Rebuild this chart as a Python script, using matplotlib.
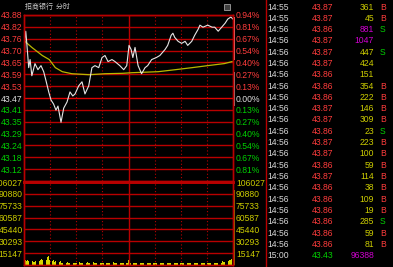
import matplotlib
matplotlib.use('Agg')
import matplotlib.pyplot as plt
from matplotlib.patches import Rectangle

plt.rcParams['font.family'] = ['Liberation Sans', 'Noto Sans CJK SC', 'DejaVu Sans']

# price panel scale
prev_close = 43.47
step = 0.0586
price_labels = ['43.88', '43.82', '43.76', '43.70', '43.65', '43.59', '43.53',
                '43.47', '43.41', '43.35', '43.29', '43.24', '43.18', '43.12']
pct_labels = ['0.94%', '0.81%', '0.67%', '0.54%', '0.40%', '0.27%', '0.13%',
              '0.00%', '0.13%', '0.27%', '0.40%', '0.54%', '0.67%', '0.81%']
vol_levels = [15147, 30293, 45440, 60587, 75733, 90880, 106027]

# intraday price (minute index, price)
px_min = [0, 1, 2, 3.4, 5.4, 7, 9, 12.6, 16, 19.5, 22.6, 25, 28.4, 31, 34, 36.7, 39,
          42.5, 45.6, 49.4, 52.8, 56, 58.6, 62.8, 66.6, 70, 74.3, 78, 81.5, 85.8,
          89.6, 93, 96.5, 101, 104.5, 110, 114.5, 118, 120.6, 123, 125, 127.5, 131,
          135, 139, 142, 146.6, 152, 156, 162, 165, 169, 171, 173, 177, 181, 185,
          188, 192.6, 196, 200, 202, 205.5, 211, 216, 219, 223, 227, 231, 234,
          237.5, 240]
px_val = [43.57, 43.76, 43.80, 43.73, 43.62, 43.66, 43.58, 43.64, 43.61, 43.63,
          43.60, 43.56, 43.50, 43.46, 43.44, 43.41, 43.43, 43.35, 43.42, 43.45,
          43.50, 43.48, 43.49, 43.53, 43.55, 43.49, 43.53, 43.62, 43.63, 43.62,
          43.67, 43.68, 43.65, 43.66, 43.65, 43.63, 43.61, 43.63, 43.73, 43.71,
          43.67, 43.72, 43.63, 43.59, 43.62, 43.63, 43.66, 43.67, 43.68, 43.71,
          43.73, 43.78, 43.79, 43.77, 43.75, 43.74, 43.75, 43.73, 43.75, 43.78,
          43.81, 43.83, 43.82, 43.83, 43.82, 43.82, 43.80, 43.82, 43.84, 43.86,
          43.87, 43.86]

# average price line
avg_min = [0, 1, 9, 21, 29, 36, 44, 55, 75, 93, 113, 124, 154, 174, 193, 211, 230, 239]
avg_val = [43.76, 43.75, 43.72, 43.68, 43.66, 43.62, 43.60, 43.59, 43.585, 43.59,
           43.592, 43.595, 43.60, 43.61, 43.62, 43.63, 43.64, 43.65]

# volume per minute, in thousands of lots
vol_k = [20, 14, 6, 5, 6, 5, 4, 5, 6, 4,
         5, 4, 4, 5, 6, 5, 4, 7, 5, 6,
         8, 6, 5, 4, 9, 11, 7, 10, 12, 6,
         5, 4, 6, 5, 7, 4, 5, 3, 4, 5,
         3, 4, 5, 3, 3, 4, 3, 2, 3, 3,
         4, 3, 2, 3, 2, 3, 4, 3, 2, 3,
         2, 3, 3, 2, 4, 3, 2, 3, 3, 2,
         3, 2, 3, 4, 3, 2, 3, 2, 3, 3,
         4, 3, 2, 3, 2, 3, 5, 3, 2, 3,
         3, 2, 4, 3, 2, 3, 3, 2, 3, 2,
         3, 2, 3, 4, 3, 2, 3, 3, 2, 3,
         2, 3, 3, 2, 3, 2, 3, 3, 2, 3,
         6, 4, 3, 3, 2, 3, 2, 3, 3, 2,
         3, 2, 3, 2, 3, 3, 2, 3, 2, 3,
         3, 2, 3, 3, 2, 3, 4, 2, 3, 3,
         2, 3, 2, 3, 3, 2, 3, 2, 3, 3,
         3, 2, 3, 4, 3, 2, 3, 3, 2, 3,
         4, 3, 2, 3, 3, 2, 3, 2, 3, 3,
         2, 3, 3, 2, 3, 2, 3, 3, 2, 3,
         3, 2, 3, 3, 2, 3, 2, 3, 3, 2,
         6, 5, 3, 2, 3, 3, 2, 3, 2, 3,
         3, 2, 3, 3, 2, 3, 3, 2, 3, 3,
         2, 3, 3, 4, 3, 3, 4, 3, 5, 4,
         4, 5, 4, 5, 6, 5, 6, 7, 8, 9]
close_vol = 96388
close_px = 43.43

# tick-by-tick list
times = ['14:55', '14:55', '14:56', '14:56', '14:56', '14:56', '14:56', '14:56',
         '14:56', '14:56', '14:56', '14:56', '14:56', '14:56', '14:56', '14:56',
         '14:56', '14:56', '14:56', '14:56', '14:56', '14:56', '15:00']
prices = ['43.87', '43.87', '43.86', '43.87', '43.87', '43.87', '43.86', '43.86',
          '43.86', '43.87', '43.87', '43.86', '43.87', '43.87', '43.86', '43.87',
          '43.86', '43.86', '43.86', '43.86', '43.86', '43.86', '43.43']
vols = ['361', '45', '881', '1047', '447', '424', '151', '354', '222', '146', '309',
        '23', '223', '100', '59', '114', '38', '109', '19', '285', '59', '81', '96388']
sides = ['B', 'B', 'S', '', 'S', '', '', 'B', 'B', 'B', 'B', 'S', 'B', 'B', 'B', 'B',
         'B', 'B', 'B', 'S', 'B', 'B', '']

RED = '#ff3c3c'
GREEN = '#00d000'
GRID = '#b80000'
YEL = '#cccc00'
W, H = 393, 267

fig = plt.figure(figsize=(W / 100, H / 100), dpi=100, facecolor='black')

bg = fig.add_axes([0, 0, 1, 1])
bg.set_xlim(0, W)
bg.set_ylim(H, 0)
bg.axis('off')
bg.set_facecolor('black')

# price panel
ax = fig.add_axes([24 / W, (H - 181) / H, 209 / W, 166 / H])
ax.set_facecolor('black')
ax.set_xlim(0, 240)
lo, hi = prev_close - 7 * step, prev_close + 7 * step
ax.set_ylim(lo, hi)
levels = [prev_close + step * k for k in range(7, -7, -1)]
for lv in levels:
    ax.axhline(lv, color='#e00000' if lv == prev_close else GRID, lw=1.0)
for m in [30, 60, 90, 150, 180, 210]:
    ax.axvline(m, color=GRID, lw=0.8, ls=(0, (1, 2)))
ax.axvline(120, color=GRID, lw=1.0)
ax.plot(avg_min, avg_val, color='#b8b800', lw=0.9)
ax.plot(px_min, px_val, color='#e6e6e6', lw=0.8)
ax.vlines(240.9, 43.66, 43.87, color='#ff9090', lw=1.3, clip_on=False)
ax.vlines(240.9, close_px, 43.60, color='#a0a0a0', lw=1.3, clip_on=False)

ax.set_xticks([])
ax.set_yticks(levels)
ax.set_yticklabels(price_labels, fontsize=6.2)
ax.tick_params(axis='y', length=0, pad=1)
ax2 = ax.twinx()
ax2.set_ylim(lo, hi)
ax2.set_yticks(levels)
ax2.set_yticklabels(pct_labels, fontsize=6.2)
ax2.tick_params(axis='y', length=0, pad=2.2)
for a in (ax, ax2):
    for i, t in enumerate(a.get_yticklabels()):
        t.set_color(RED if i < 7 else ('#e0e0e0' if i == 7 else GREEN))
    for s in a.spines.values():
        s.set_color(GRID)
        s.set_linewidth(1.0)

# volume panel
vax = fig.add_axes([24 / W, 2 / H, 209 / W, 83 / H])
vax.set_facecolor('black')
vax.set_xlim(0, 240)
vax.set_ylim(0, 106027)
for lv in vol_levels[:-1]:
    vax.axhline(lv, color=GRID, lw=1.0)
for m in [30, 60, 90, 150, 180, 210]:
    vax.axvline(m, color=GRID, lw=0.8, ls=(0, (1, 2)))
vax.axvline(120, color=GRID, lw=1.0)
vax.bar(range(len(vol_k)), [v * 1000 for v in vol_k], width=0.6, color='#d8d800')
vax.bar(241, close_vol, width=2.2, color='#808000', clip_on=False)
vax.set_xticks([])
vax.set_yticks(vol_levels)
vax.set_yticklabels([str(v) for v in vol_levels], fontsize=6.2, color=YEL)
vax.tick_params(axis='y', length=0, pad=1)
vax2 = vax.twinx()
vax2.set_ylim(0, 106027)
vax2.set_yticks(vol_levels)
vax2.set_yticklabels([str(v) for v in vol_levels], fontsize=6.2, color=YEL)
vax2.tick_params(axis='y', length=0, pad=2.2)
for a in (vax, vax2):
    for s in a.spines.values():
        s.set_color(GRID)
        s.set_linewidth(1.0)
    a.spines['top'].set_linewidth(2)

# title and small icon
bg.text(25, 7, '招商银行  分时', fontsize=5, color='#c8c8c8', va='center', ha='left',
        family=['Noto Sans CJK SC', 'DejaVu Sans'])
bg.add_patch(Rectangle((224, 4), 6, 6, facecolor='#404040', edgecolor='#a0a0a0', lw=0.6))

# separator and tick list
bg.plot([266, 266], [0, H], color=GRID, lw=1)
for i in range(len(times)):
    y = 7 + i * 11.3
    last = i == len(times) - 1
    bg.text(267, y, times[i], fontsize=6.2, color='#d8d8d8', va='center', ha='left')
    bg.text(312, y, prices[i], fontsize=6.2, color=GREEN if last else RED,
            va='center', ha='left')
    vc = '#d000d0' if vols[i] in ('881', '1047', '96388') else YEL
    bg.text(374, y, vols[i], fontsize=6.2, color=vc, va='center', ha='right')
    if sides[i]:
        bg.text(380, y, sides[i], fontsize=6.2, color=RED if sides[i] == 'B' else GREEN,
                va='center', ha='left')

fig.savefig('out.png', dpi=100, facecolor='black')
